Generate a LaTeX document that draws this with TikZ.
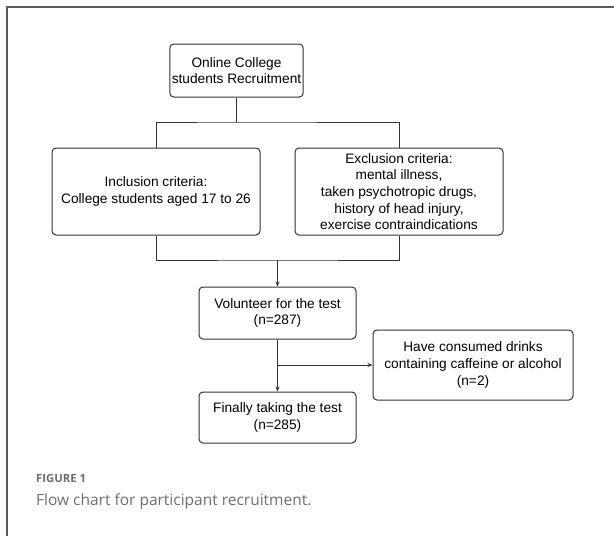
\documentclass[tikz,border=0pt]{standalone}
\usepackage{fontspec}
\setmainfont{Liberation Sans}
\newfontfamily\capfont{Open Sans}
\usetikzlibrary{arrows.meta}

\definecolor{framegray}{HTML}{5A5A5A}
\definecolor{boxline}{HTML}{333333}
\definecolor{capgray}{HTML}{6E6E6E}

\begin{document}
\begin{tikzpicture}[%
        x = 1pt, y = -1pt,
        > = {Stealth[length = 5pt, width = 4pt]},
        box/.style = {
            draw = boxline, line width = 1pt, rounded corners = 4pt,
            align = center, inner sep = 2pt,
            font = \fontsize{13.7}{16.7}\selectfont
        },
        link/.style = {draw = boxline, line width = 1pt}
    ]

        \useasboundingbox (0, 0) rectangle (614, 536);

        % outer frame, only top and left edges are visible
        \draw[framegray, line width = 1.6pt] (7, 536) -- (7, 7) -- (614, 7);

        \node[box, minimum width = 133, minimum height = 53] (recruit) at (236.5, 70.5)
            {Online College\\students Recruitment};
        \node[box, minimum width = 208, minimum height = 87] (incl) at (156, 191.5)
            {Inclusion criteria:\\College students aged 17 to 26};
        \node[box, minimum width = 208, minimum height = 87] (excl) at (399, 191.5)
            {Exclusion criteria:\\mental illness,\\taken psychotropic drugs,\\history of head injury,\\exercise contraindications};
        \node[box, minimum width = 157, minimum height = 52] (vol) at (277.5, 313)
            {Volunteer for the test\\(n=287)};
        \node[box, minimum width = 200, minimum height = 70] (cons) at (473, 365)
            {Have consumed drinks\\containing caffeine or alcohol\\(n=2)};
        \node[box, minimum width = 157, minimum height = 51] (final) at (277.5, 417.5)
            {Finally taking the test\\(n=285)};

        \coordinate (topbar) at (recruit.south |- 0, 122);
        \coordinate (botbar) at (vol.north |- 0, 260);
        \coordinate (branch) at (vol.south |- cons.west);

        \draw[link] (recruit.south) -- (topbar);
        \draw[link] (incl.north) |- (topbar) -| (excl.north);
        \draw[link] (incl.south) |- (botbar) -| (excl.south);
        \draw[link, ->] (botbar) -- (vol.north);
        \draw[link, ->] (vol.south) -- (final.north);
        \draw[link, ->] (branch) -- (cons.west);

        % caption
        \node[anchor = base west, inner sep = 0pt, text = capgray,
              font = \capfont\bfseries\fontsize{11.3}{13}\selectfont] (figlabel) at (36, 482)
            {FIGURE 1};
        \node[anchor = base west, inner sep = 0pt, text = capgray,
              font = \capfont\fontsize{15.5}{18}\selectfont] (figtext) at (36, 505)
            {Flow chart for participant recruitment.};
    \end{tikzpicture}
\end{document}
